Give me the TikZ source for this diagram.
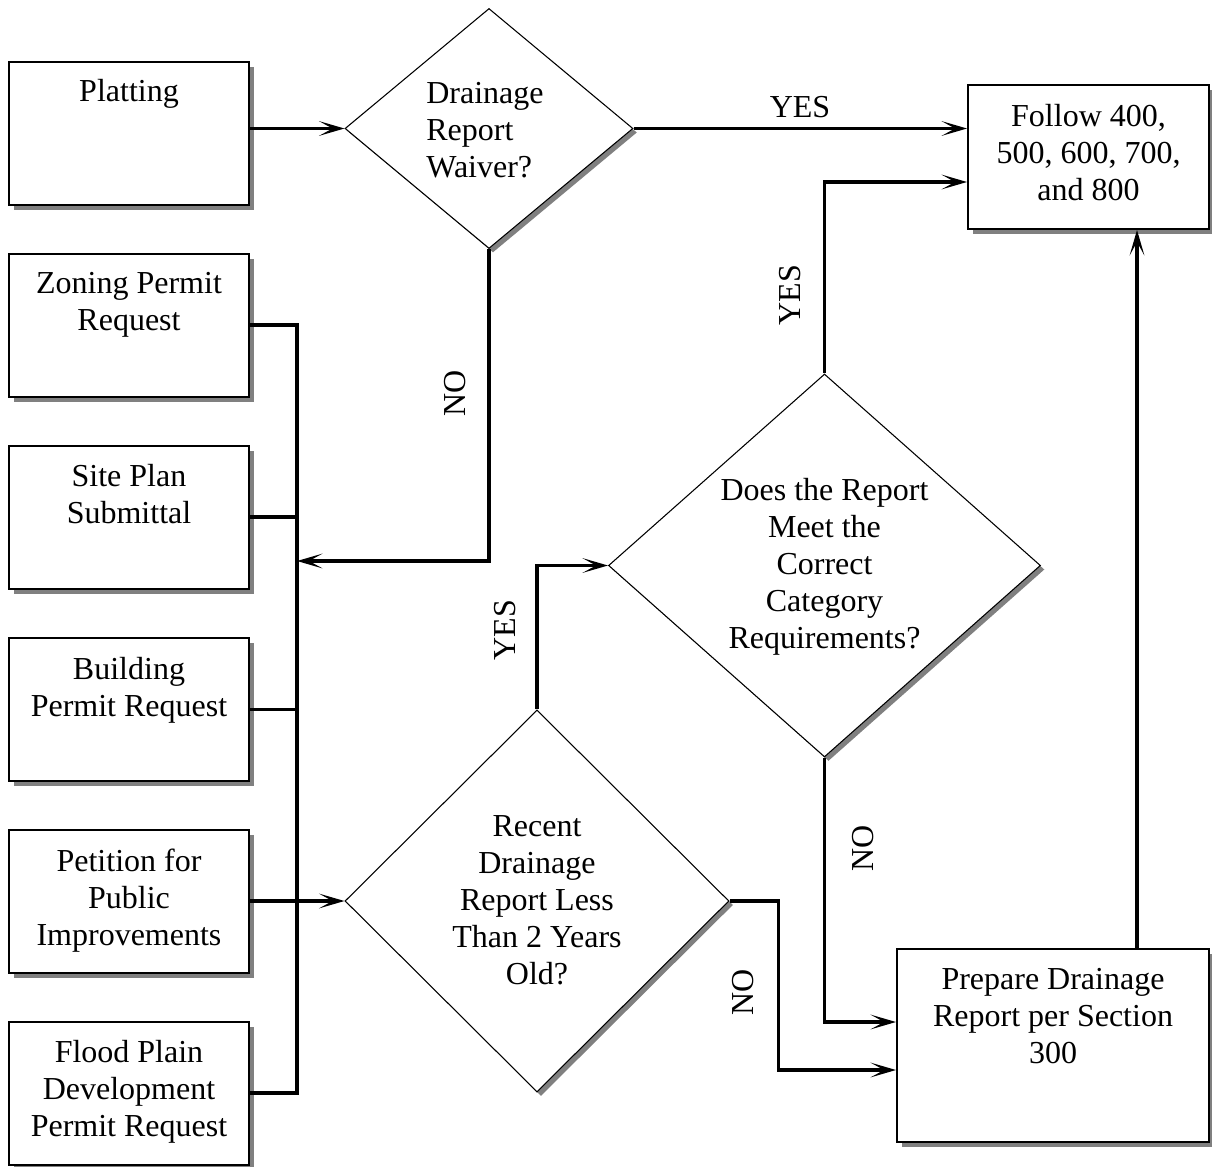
\documentclass[tikz,border=0pt]{standalone}
\usepackage{fontspec}
\setmainfont{Liberation Serif}
\usetikzlibrary{shapes.geometric,arrows.meta,shadows}
\begin{document}
\begin{tikzpicture}[x=0.75pt,y=-0.75pt,
  every node/.style={font=\fontsize{24}{27.75}\selectfont},
  box/.style={rectangle, draw, line width=1.5pt, fill=white, inner sep=0pt,
    minimum width=180pt, minimum height=107.25pt,
    drop shadow={shadow xshift=3.75pt, shadow yshift=-3.75pt, fill=black!50, opacity=1}},
  btxt/.style={anchor=north, inner sep=0pt, align=center, yshift=-15pt,
    draw=none, fill=none, execute at begin node=\strut},
  dia/.style={diamond, draw, line width=0.8pt, fill=white, inner sep=0pt,
    drop shadow={shadow xshift=3pt, shadow yshift=-3pt, fill=black!50, opacity=1}},
  dtxt/.style={anchor=center, inner sep=0pt, align=center, draw=none, fill=none},
  conn/.style={line width=2.4pt},
  arr/.style={conn, -{Stealth[length=19pt,width=11pt,inset=10pt]}},
  lab/.style={inner sep=0pt},
  vlab/.style={inner sep=0pt, rotate=90}
]
\useasboundingbox (0,0) rectangle (1212,1166);

% left column boxes
\node[box, label={[btxt, yshift=4pt]north:Platting}] (plat) at (129,133.5) {};
\node[box, label={[btxt]north:Zoning Permit\\Request}] (zon) at (129,325) {};
\node[box, label={[btxt]north:Site Plan\\Submittal}] (site) at (129,517) {};
\node[box, label={[btxt]north:Building\\Permit Request}] (bld) at (129,709.5) {};
\node[box, label={[btxt]north:Petition for\\Public\\Improvements}] (pet) at (129,901) {};
\node[box, label={[btxt]north:Flood Plain\\Development\\Permit Request}] (fld) at (129,1093) {};

% right boxes
\node[box, minimum width=180.75pt, minimum height=108pt,
  label={[btxt]north:Follow 400,\\500, 600, 700,\\and 800}] (fol) at (1088.5,157) {};
\node[box, minimum width=234pt, minimum height=144.75pt,
  label={[btxt]north:Prepare Drainage\\Report per Section\\300}] (prep) at (1053,1045.5) {};

% diamonds
\node[dia, minimum width=216pt, minimum height=180pt,
  label={[dtxt, align=left, xshift=-3pt, yshift=-1.5pt]center:Drainage\\Report\\Waiver?}] (d1) at (489,128.5) {};
\node[dia, minimum width=324pt, minimum height=287.25pt,
  label={[dtxt, yshift=-0.75pt]center:Does the Report\\Meet the\\Correct\\Category\\Requirements?}] (d2) at (824.5,565.5) {};
\node[dia, minimum width=288pt, minimum height=286.5pt,
  label={[dtxt, yshift=0.75pt]center:Recent\\Drainage\\Report Less\\Than 2 Years\\Old?}] (d3) at (537,901) {};

% bus
\coordinate (bt) at (297,325);
\coordinate (bb) at (297,1093);
\coordinate (busno) at (297,561);
\draw[conn] (zon.east) -- (bt) -- (bb) -- (fld.east);
\draw[conn] (site.east) -- (site.east -| bt);
\draw[conn] (bld.east) -- (bld.east -| bt);

% connectors
\draw[arr] (d1.west -| plat.east) -- (d1.west);
\draw[arr] (pet.east) -- (d3.west);
\draw[arr] (d1.east) -- (d1.east -| fol.west);
\draw[arr] (d1.south) |- (busno);
\draw[arr] (d2.north) |- (fol.west |- 0,182);
\draw[arr] (d3.north) |- (d2.west);
\draw[arr] (d3.east) -- ++(49,0) |- (prep.west |- 0,1070);
\draw[arr] (d2.south) |- (prep.west |- 0,1022);
\draw[arr] (1137,0 |- prep.north) -- (1137,0 |- fol.south);

% connector labels
\node[lab] (yes1) at (800,107) {YES};
\node[vlab] (no1) at (455,393) {NO};
\node[vlab] (yes2) at (790,295) {YES};
\node[vlab] (yes3) at (505,630) {YES};
\node[vlab] (no3) at (743,992) {NO};
\node[vlab] (no2) at (863,848) {NO};
\end{tikzpicture}
\end{document}
